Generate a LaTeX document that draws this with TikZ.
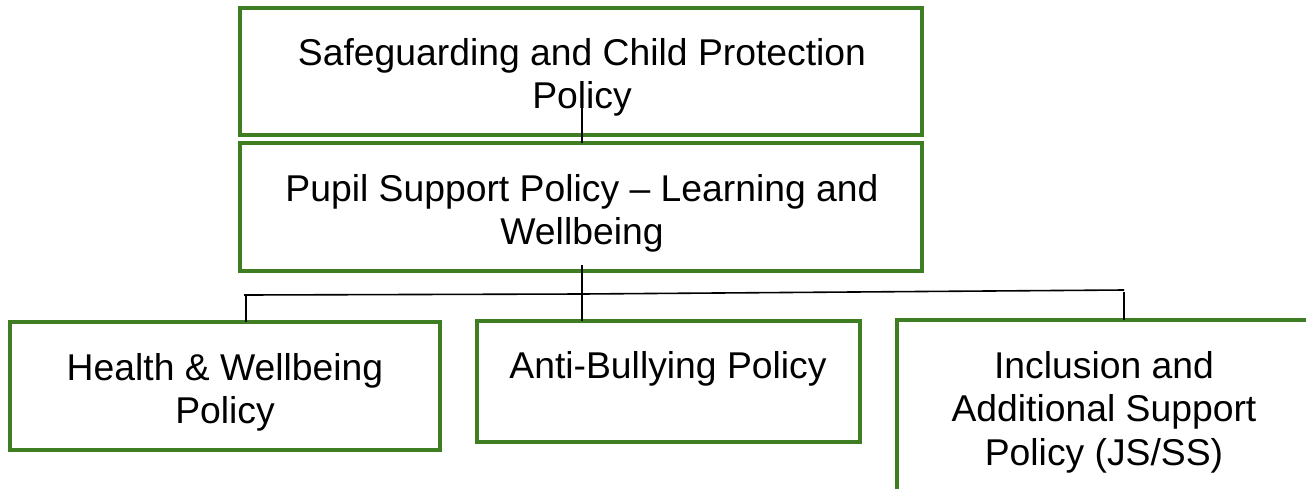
\documentclass[tikz,border=0pt]{standalone}
\usepackage{fontspec}
\setmainfont{Liberation Sans}
\definecolor{boxgreen}{HTML}{3F7D22}
\begin{document}
\begin{tikzpicture}[x=1pt,y=-1pt,
  pbox/.style={draw=boxgreen, line width=4pt, fill=white, rectangle, inner sep=0pt, outer sep=0pt},
  ptext/.style={anchor=north, align=center, inner sep=0pt, outer sep=0pt, font=\fontsize{37.3}{43.5}\selectfont},
  conn/.style={draw=black, line width=1.6pt}]
\useasboundingbox (0,0) rectangle (1306,488);
\clip (0,0) rectangle (1306,488);
% boxes
\node[pbox, minimum width=682pt, minimum height=127pt] (b1) at (581,71.5) {};
\node[pbox, minimum width=682pt, minimum height=128pt] (b2) at (581,207) {};
\node[pbox, minimum width=430pt, minimum height=128pt] (b3) at (225,386) {};
\node[pbox, minimum width=383pt, minimum height=121pt] (b4) at (668.5,381.5) {};
\node[pbox, minimum width=443pt, minimum height=200pt] (b5) at (1118.5,420) {};
% connector points
\coordinate (c1) at (582,103);
\coordinate (c2) at (582,265);
\coordinate (hl) at (244,295);
\coordinate (hm) at (582,294);
\coordinate (hr) at (1124,290);
\coordinate (dl) at (246,295);
\coordinate (dr) at (1124,292);
% connectors
\draw[conn] (c1) -- (c1 |- b2.north);
\draw[conn] (c2) -- (c2 |- b4.north);
\draw[conn] (hl) -- (hm) -- (hr);
\draw[conn] (dl) -- (dl |- b3.north);
\draw[conn] (dr) -- (dr |- b5.north);
% texts
\node[ptext] (t1) at (582,38) {Safeguarding and Child Protection\\Policy};
\node[ptext] (t2) at (582,174) {Pupil Support Policy – Learning and\\Wellbeing};
\node[ptext] (t3) at (225,353) {Health \& Wellbeing\\Policy};
\node[ptext] (t4) at (668,351) {Anti-Bullying Policy};
\node[ptext] (t5) at (1104,351) {Inclusion and\\Additional Support\\Policy (JS/SS)};
\end{tikzpicture}
\end{document}
